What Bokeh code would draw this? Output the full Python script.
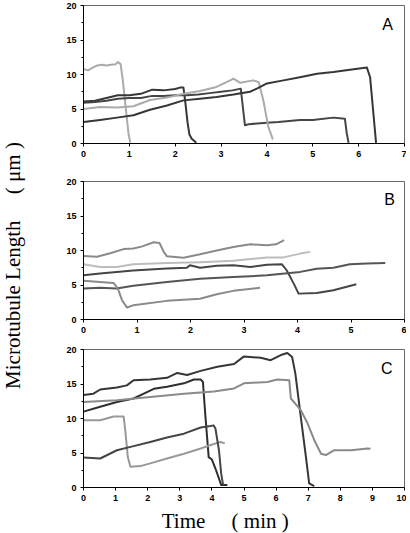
import math
from bokeh.plotting import figure
from bokeh.layouts import row, column
from bokeh.models import Range1d, SingleIntervalTicker, Label
from bokeh.embed import file_html
from bokeh.resources import INLINE

# ---------------- data (time in min, length in um) ----------------
# Panel A
a1_t = [0, 0.1, 0.2, 0.3, 0.4, 0.5, 0.6, 0.7, 0.75, 0.81, 0.86, 0.9, 0.94, 0.98, 1.02]
a1_l = [10.8, 10.6, 11.0, 11.3, 11.4, 11.3, 11.4, 11.5, 11.8, 11.5, 9.0, 6.5, 4.0, 1.5, 0.1]
a2_t = [0, 0.25, 0.5, 0.75, 1.0, 1.25, 1.5, 1.75, 2.0, 2.1, 2.18, 2.22, 2.27, 2.31, 2.36, 2.46]
a2_l = [6.1, 6.2, 6.6, 7.0, 7.0, 7.2, 7.8, 7.7, 7.9, 8.1, 8.1, 6.0, 3.0, 1.3, 0.7, 0.1]
a3_t = [0, 0.25, 0.5, 0.75, 1.0, 1.25, 1.5, 1.75, 2.0, 2.25, 2.5, 2.75, 3.0, 3.25, 3.43,
        3.48, 3.52, 3.6, 4.0, 4.25, 4.72, 5.0, 5.45, 5.7, 5.74, 5.78]
a3_l = [5.9, 6.0, 6.2, 6.5, 6.6, 6.6, 6.9, 6.9, 7.0, 7.0, 7.1, 7.3, 7.5, 7.7, 7.95,
        5.0, 2.65, 2.8, 3.0, 3.1, 3.4, 3.4, 3.75, 3.6, 1.5, 0.1]
a4_t = [0, 0.36, 0.73, 1.09, 1.45, 1.82, 2.18, 2.54, 2.9, 3.2, 3.27, 3.42, 3.7, 3.82, 3.92, 4.03, 4.13]
a4_l = [5.0, 5.3, 5.2, 5.4, 6.3, 6.65, 7.2, 7.6, 8.2, 9.15, 9.4, 8.8, 9.15, 8.9, 6.3, 2.4, 0.6]
a5_t = [0, 0.36, 0.73, 1.09, 1.45, 1.82, 2.18, 2.54, 2.9, 3.27, 3.63, 3.78, 4.0, 4.36, 4.72,
        5.09, 5.45, 5.81, 6.18, 6.25, 6.38]
a5_l = [3.1, 3.4, 3.75, 4.1, 4.9, 5.5, 6.25, 6.5, 6.75, 7.1, 7.5, 7.95, 8.7, 9.15, 9.6,
        10.1, 10.35, 10.7, 11.0, 9.6, 0.1]

# Panel B
b1_t = [0, 0.25, 0.5, 0.75, 0.93, 1.1, 1.31, 1.42, 1.5, 1.56, 1.87, 2.18, 2.49, 2.8, 3.12, 3.43, 3.6, 3.75]
b1_l = [9.2, 9.1, 9.6, 10.2, 10.3, 10.6, 11.2, 11.1, 9.8, 9.15, 8.96, 9.45, 10.0, 10.5, 10.9, 10.75, 10.9, 11.5]
b2_t = [0, 0.31, 0.62, 0.93, 1.56, 2.18, 2.8, 3.43, 3.74, 4.05, 4.24]
b2_l = [8.0, 7.6, 7.6, 8.0, 8.2, 8.3, 8.5, 9.0, 9.0, 9.55, 9.8]
b3_t = [0, 0.31, 0.93, 1.56, 1.93, 1.99, 2.18, 2.49, 2.8, 3.12, 3.43, 3.71, 3.8, 3.93,
        4.02, 4.36, 4.67, 5.1]
b3_l = [6.4, 6.65, 7.1, 7.4, 7.5, 7.85, 7.5, 7.8, 7.85, 7.6, 7.95, 8.0, 7.1, 5.2,
        3.75, 3.85, 4.25, 5.1]
b4_t = [0, 0.31, 0.62, 0.93, 1.56, 2.18, 2.8, 3.43, 4.05, 4.36, 4.67, 4.98, 5.3, 5.64]
b4_l = [4.5, 4.6, 4.5, 4.9, 5.45, 5.9, 6.15, 6.4, 6.9, 7.35, 7.5, 8.0, 8.1, 8.2]
b5_t = [0, 0.31, 0.56, 0.64, 0.72, 0.81, 0.93, 1.56, 2.18, 2.49, 2.8, 3.3]
b5_l = [5.6, 5.45, 5.3, 4.5, 2.8, 1.75, 2.05, 2.7, 3.0, 3.65, 4.15, 4.6]

# Panel C
c1_t = [0, 0.31, 0.52, 1.04, 1.35, 1.56, 2.08, 2.6, 2.92, 3.23, 3.65, 4.17, 4.69, 5.0,
        5.52, 5.83, 6.15, 6.35, 6.5, 6.6, 6.77, 6.93, 7.03, 7.19]
c1_l = [13.4, 13.6, 14.2, 14.5, 14.8, 15.55, 15.65, 15.9, 16.6, 16.3, 16.9, 17.5, 17.9, 19.0,
        18.8, 18.45, 19.2, 19.5, 18.9, 16.5, 10.2, 4.4, 0.6, 0.2]
c2_t = [0, 0.52, 1.04, 1.56, 1.88, 2.19, 2.6, 3.13, 3.44, 3.65, 3.72, 3.8, 3.9, 4.0,
        4.11, 4.22, 4.29, 4.48]
c2_l = [11.0, 11.7, 12.4, 12.9, 13.6, 14.3, 14.6, 15.1, 15.65, 15.65, 15.3, 10.2, 4.4, 4.05,
        2.75, 1.3, 0.35, 0.35]
c3_t = [0, 1.04, 2.08, 3.13, 4.06, 4.69, 5.0, 5.73, 6.04, 6.41, 6.46, 6.77, 6.98, 7.19,
        7.4, 7.55, 7.81, 8.33, 8.85, 8.94]
c3_l = [12.4, 12.65, 13.1, 13.6, 13.9, 14.35, 15.1, 15.3, 15.65, 15.55, 12.9, 11.2, 9.3, 6.85,
        4.9, 4.7, 5.4, 5.4, 5.65, 5.6]
c4_t = [0, 0.52, 0.94, 1.25, 1.3, 1.38, 1.46, 1.77, 2.08, 2.6, 3.13, 3.65, 4.06, 4.27, 4.4]
c4_l = [9.75, 9.75, 10.3, 10.3, 8.3, 4.45, 3.0, 3.1, 3.5, 4.2, 4.9, 5.65, 6.3, 6.6, 6.4]
c5_t = [0, 0.52, 1.04, 1.56, 2.08, 2.6, 3.13, 3.65, 3.96, 4.05, 4.11, 4.22, 4.29, 4.35]
c5_l = [4.35, 4.2, 5.4, 6.0, 6.6, 7.25, 7.8, 8.7, 8.9, 9.0, 8.55, 5.4, 2.0, 0.35]

panel_letters = ["A", "B", "C"]
x_max = [7, 6, 10]
y_max = 20

DARK = "#363636"
DARK2 = "#454545"
MID = "#8a8a8a"
LIGHT = "#ababab"

panels = [
    [(a1_t, a1_l, LIGHT), (a2_t, a2_l, DARK), (a3_t, a3_l, DARK2), (a4_t, a4_l, LIGHT), (a5_t, a5_l, DARK)],
    [(b1_t, b1_l, MID), (b2_t, b2_l, "#bdbdbd"), (b3_t, b3_l, DARK2), (b4_t, b4_l, "#555555"), (b5_t, b5_l, MID)],
    [(c1_t, c1_l, DARK), (c2_t, c2_l, "#2e2e2e"), (c3_t, c3_l, MID), (c4_t, c4_l, "#999999"), (c5_t, c5_l, DARK2)],
]

letter_pos = [(6.63, 17.3), (5.72, 17.4), (9.45, 17.2)]
# (top border, bottom border) of each panel figure; frame height 138
borders = [(5, 34), (4, 26), (4, 16)]

LW = 46    # width of the y-title column
PW = 360   # width of each panel figure
TH = 30    # height of x-title strip
figs = []
for i in range(3):
    top, bottom = borders[i]
    f = figure(width=PW, height=top + 138 + bottom, output_backend="svg", toolbar_location=None,
               x_range=Range1d(0, x_max[i]), y_range=Range1d(0, y_max),
               min_border_left=37, min_border_right=2, min_border_top=top, min_border_bottom=bottom)
    f.grid.visible = False
    f.outline_line_color = "#6a6a6a"
    f.outline_line_width = 1
    f.background_fill_color = "white"
    f.border_fill_color = "white"
    f.xaxis.ticker = SingleIntervalTicker(interval=1, num_minor_ticks=0)
    f.yaxis.ticker = SingleIntervalTicker(interval=5, num_minor_ticks=2)
    for ax in (f.xaxis, f.yaxis):
        ax.axis_line_color = "black"
        ax.axis_line_width = 1
        ax.major_tick_line_color = "black"
        ax.minor_tick_line_color = "black"
        ax.major_tick_in = 0
        ax.major_tick_out = 3
        ax.minor_tick_in = 0
        ax.minor_tick_out = 2
        ax.major_label_text_font = "Liberation Sans"
        ax.major_label_text_font_style = "bold"
        ax.major_label_text_font_size = "9px"
        ax.major_label_text_color = "black"
        ax.major_label_standoff = 4
    for (t, l, c) in panels[i]:
        f.line(t, l, line_color=c, line_width=2, line_join="round")
    lx, ly = letter_pos[i]
    f.add_layout(Label(x=lx, y=ly, text=panel_letters[i], text_align="center",
                       text_baseline="middle", text_font="Liberation Sans",
                       text_font_size="16px", text_color="black"))
    figs.append(f)

TOTAL_H = sum(fg.height for fg in figs) + TH

# y-axis title column
lab = figure(width=LW, height=TOTAL_H, output_backend="svg", toolbar_location=None,
             x_range=Range1d(0, LW), y_range=Range1d(0, TOTAL_H),
             min_border=0, min_border_left=0, min_border_right=0, min_border_top=0, min_border_bottom=0)
lab.axis.visible = False
lab.grid.visible = False
lab.outline_line_color = None
lab.add_layout(Label(x=12, y=TOTAL_H - 265, text="Microtubule Length\u2003 ( \u03bcm )", angle=math.pi / 2,
                     text_align="center", text_baseline="middle", text_font="Liberation Serif",
                     text_font_size="21px", text_color="black"))

# x-axis title row
tf = figure(width=PW, height=TH, output_backend="svg", toolbar_location=None,
            x_range=Range1d(0, PW), y_range=Range1d(0, TH),
            min_border=0, min_border_left=0, min_border_right=0, min_border_top=0, min_border_bottom=0)
tf.axis.visible = False
tf.grid.visible = False
tf.outline_line_color = None
tf.add_layout(Label(x=159, y=13, text="Time\u2003 ( min )", text_align="center",
                    text_baseline="middle", text_font="Liberation Serif",
                    text_font_size="21px", text_color="black"))

layout = row(lab, column(figs[0], figs[1], figs[2], tf, spacing=0), spacing=0)

open("out.html", "w").write(file_html(layout, INLINE))
